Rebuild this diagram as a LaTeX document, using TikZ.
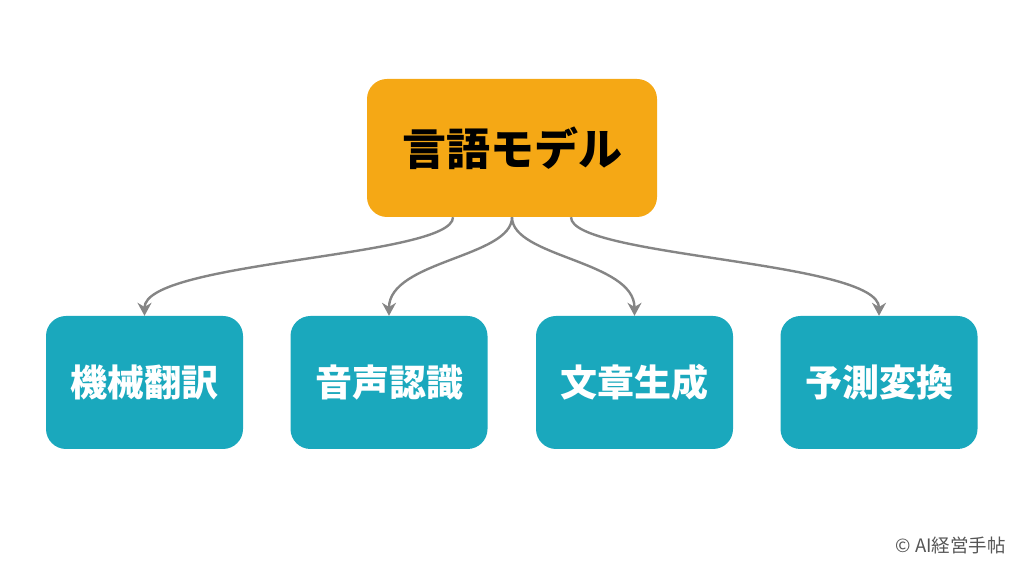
\documentclass[tikz,border=0pt]{standalone}
\usepackage{fontspec}
\setmainfont{Noto Sans CJK JP}
\usetikzlibrary{arrows.meta}
\definecolor{topc}{HTML}{F5A815}
\definecolor{boxc}{HTML}{1AA8BD}
\definecolor{arrc}{HTML}{858585}
\definecolor{wmc}{HTML}{555555}
\tikzset{
  topbox/.style={fill=topc, rounded corners=20pt, minimum width=290pt, minimum height=138pt, inner sep=0pt, font=\fontsize{44}{50}\selectfont\bfseries, text=black},
  leafbox/.style={fill=boxc, rounded corners=20pt, minimum width=197pt, minimum height=133pt, inner sep=0pt, font=\fontsize{37}{42}\selectfont\bfseries, text=white},
  conn/.style={draw=arrc, line width=2.4pt, -{Stealth[length=13pt,width=14pt]}, out=-90, in=90, out distance=40pt, in distance=55pt}
}
\begin{document}
\begin{tikzpicture}[x=1pt,y=1pt]
\useasboundingbox (0,0) rectangle (1024,572);
\node[topbox] (top) at (512,424) {言語モデル};
\node[leafbox] (b1) at (144.5,189.5) {機械翻訳};
\node[leafbox] (b2) at (389,189.5) {音声認識};
\node[leafbox] (b3) at (634.5,189.5) {文章生成};
\node[leafbox] (b4) at (879,189.5) {予測変換};
\coordinate (s1) at ([xshift=-59pt]top.south);
\coordinate (s4) at ([xshift=59pt]top.south);
\draw[conn] (s1) to (b1.north);
\draw[conn] (top.south) to (b2.north);
\draw[conn] (top.south) to (b3.north);
\draw[conn] (s4) to (b4.north);
\node[anchor=base east, text=wmc, font=\fontsize{18.5}{22}\selectfont, inner sep=0pt] (wm) at (1006,19) {© AI経営手帖};
\end{tikzpicture}
\end{document}
